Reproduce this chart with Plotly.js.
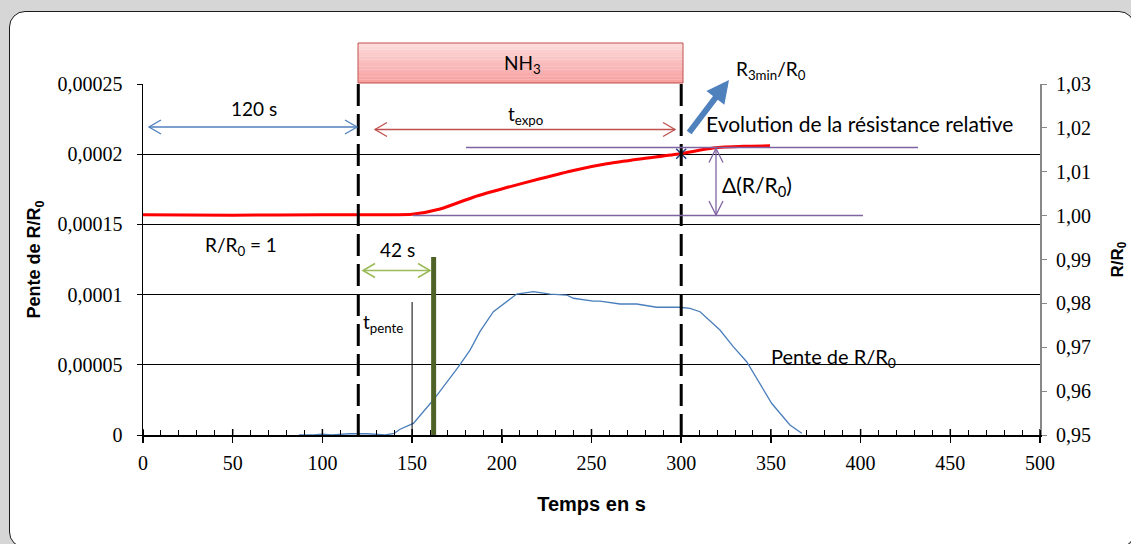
<!DOCTYPE html>
<html><head><meta charset="utf-8">
<script src="https://cdn.plot.ly/plotly-3.0.1.min.js"></script>
<style>
html,body{margin:0;padding:0;width:1131px;height:544px;overflow:hidden;background:#d6d6d6;}
#frame{position:absolute;left:9px;top:11px;width:1126px;height:537px;background:#fff;border:1.5px solid #1a1a1a;border-radius:16px;box-sizing:border-box;}
#chart{position:absolute;left:0;top:0;width:1131px;height:544px;}
</style></head><body>
<div id="frame"></div><div id="chart"></div>
<script>
// ---- data ----
const timeRed  = [0, 50, 100, 140, 150, 165.6, 184.1, 202.7, 221.3, 239.9, 258.5, 277, 299.3, 317.9, 335, 349.5];
const ratioRed = [1.0002, 1.0001, 1.0002, 1.0002, 1.0003, 1.0015, 1.0042, 1.0064, 1.0084, 1.0103, 1.0118, 1.0129, 1.0141, 1.0154, 1.0158, 1.0159];

const timeBlue  = [87, 95, 100, 105, 115, 125, 135, 140, 143.3, 150.7, 161.8, 175.8, 182.3, 187.8, 195.3, 208.3, 217.6, 226.9, 236.2, 239.9, 251, 254.7, 265.9, 275.2, 286.3, 299.3, 304.9, 310.5, 321.6, 329, 336.5, 343.9, 350.4, 360.6, 367.2];
const slopeBlue = [0, 0, 0.0000006, 0, 0.0000009, 0.0000009, 0, 0.0000012, 0.0000041, 0.0000083, 0.0000249, 0.0000486, 0.0000605, 0.0000736, 0.0000878, 0.0001004, 0.0001021, 0.0001004, 0.0000997, 0.0000974, 0.0000954, 0.0000954, 0.0000933, 0.0000933, 0.000091, 0.000091, 0.0000902, 0.0000878, 0.0000748, 0.0000629, 0.0000522, 0.0000368, 0.0000226, 0.0000071, 0.0000012];

const markerTime  = [300];
const markerRatio = [1.0141];

const xTickVals = [0, 50, 100, 150, 200, 250, 300, 350, 400, 450, 500];
const leftTickVals = [0, 0.00005, 0.0001, 0.00015, 0.0002, 0.00025];
const leftTickText = ['0', '0,00005', '0,0001', '0,00015', '0,0002', '0,00025'];
const rightTickVals = [0.95, 0.96, 0.97, 0.98, 0.99, 1.00, 1.01, 1.02, 1.03];
const rightTickText = ['0,95', '0,96', '0,97', '0,98', '0,99', '1,00', '1,01', '1,02', '1,03'];

const exposureStart = 120, exposureEnd = 300;
const slopeMarkTime = 162, slopeRefTime = 150;

// ---- pixel helpers for decorations ----
const L = 143, R = 1040, T = 84, B = 435;
function xs(px) { return (px - L) / (R - L) * 500; }
function yp(py) { return (B - py) / (B - T); }

const FAM = 'Lato, Carlito, Calibri, sans-serif';
const SERIF = 'Liberation Serif, Times New Roman, serif';

const shapes = [];
const annotations = [];

// NH3 gradient box
const boxTop = 43, boxBot = 83, strips = 12;
for (let i = 0; i < strips; i++) {
  const t = i / (strips - 1);
  const r = Math.round(253 - 7 * t), g = Math.round(218 - 58 * t), b = Math.round(218 - 58 * t);
  const y0 = boxTop + (boxBot - boxTop) * i / strips, y1 = boxTop + (boxBot - boxTop) * (i + 1) / strips;
  shapes.push({type: 'rect', xref: 'x', yref: 'paper', x0: xs(358), x1: xs(683), y0: yp(y1), y1: yp(y0),
    fillcolor: `rgb(${r},${g},${b})`, line: {width: 0}});
}
shapes.push({type: 'rect', xref: 'x', yref: 'paper', x0: xs(358), x1: xs(683), y0: yp(boxBot), y1: yp(boxTop),
  fillcolor: 'rgba(0,0,0,0)', line: {color: '#c0504d', width: 1}});

// dashed exposure lines
[exposureStart, exposureEnd].forEach(x => shapes.push({type: 'line', xref: 'x', yref: 'paper', x0: x, x1: x, y0: 1, y1: 0,
  line: {color: '#000', width: 3, dash: '22px,8px'}}));

// major x ticks crossing the axis (inner half)
xTickVals.forEach(x => shapes.push({type: 'line', xref: 'x', yref: 'paper', ysizemode: 'pixel',
  yanchor: 0, x0: x, x1: x, y0: 0, y1: 6, line: {color: '#000', width: 1.5}}));

// t_pente reference line and slope mark
shapes.push({type: 'line', xref: 'x', yref: 'paper', x0: slopeRefTime, x1: slopeRefTime, y0: 0, y1: yp(302), line: {color: '#000', width: 1}});
shapes.push({type: 'line', xref: 'x', yref: 'paper', x0: slopeMarkTime, x1: slopeMarkTime, y0: 0, y1: yp(257), line: {color: '#4f6228', width: 5}});

// purple reference lines
shapes.push({type: 'line', xref: 'x', yref: 'paper', x0: xs(466), x1: xs(918), y0: yp(147.5), y1: yp(147.5), line: {color: '#8064a2', width: 1.3}});
shapes.push({type: 'line', xref: 'x', yref: 'paper', x0: xs(413), x1: xs(863), y0: yp(215.5), y1: yp(215.5), line: {color: '#8064a2', width: 1.3}});

// double arrows
function hArrow(pxA, pxB, py, color, w) {
  shapes.push({type: 'line', xref: 'x', yref: 'paper', x0: xs(pxA), x1: xs(pxB), y0: yp(py), y1: yp(py), line: {color, width: w}});
  shapes.push({type: 'path', xref: 'x', yref: 'paper', xsizemode: 'pixel', ysizemode: 'pixel', xanchor: xs(pxA), yanchor: yp(py),
    path: 'M12,-7L0,0L12,7', line: {color, width: w}});
  shapes.push({type: 'path', xref: 'x', yref: 'paper', xsizemode: 'pixel', ysizemode: 'pixel', xanchor: xs(pxB), yanchor: yp(py),
    path: 'M-12,-7L0,0L-12,7', line: {color, width: w}});
}
function vArrow(px, pyTop, pyBot, color, w) {
  shapes.push({type: 'line', xref: 'x', yref: 'paper', x0: xs(px), x1: xs(px), y0: yp(pyTop), y1: yp(pyBot), line: {color, width: w}});
  shapes.push({type: 'path', xref: 'x', yref: 'paper', xsizemode: 'pixel', ysizemode: 'pixel', xanchor: xs(px), yanchor: yp(pyTop),
    path: 'M-7,-14L0,0L7,-14', line: {color, width: w}});
  shapes.push({type: 'path', xref: 'x', yref: 'paper', xsizemode: 'pixel', ysizemode: 'pixel', xanchor: xs(px), yanchor: yp(pyBot),
    path: 'M-7,14L0,0L7,14', line: {color, width: w}});
}
hArrow(149, 357, 127, '#4f81bd', 1.3);
hArrow(375, 675, 129.5, '#c0504d', 1.3);
hArrow(363, 430, 270.5, '#9bbb59', 1.6);
vArrow(716, 148.5, 215, '#8064a2', 1.3);

// texts
function txt(text, px, py, anchor, size) {
  annotations.push({text, xref: 'x', yref: 'paper', x: xs(px), y: yp(py), xanchor: anchor || 'center', yanchor: 'middle',
    showarrow: false, font: {family: FAM, size: size || 19, color: '#000'}});
}
txt('NH<sub>3</sub>', 522, 64);
txt('120 s', 254, 108);
txt('t<sub>expo</sub>', 525, 115);
txt('R<sub>3min</sub>/R<sub>0</sub>', 734, 70, 'left');
txt('Evolution de la résistance relative', 704, 123, 'left', 21);
txt('Δ(R/R<sub>0</sub>)', 720, 186, 'left', 21);
txt('R/R<sub>0</sub> = 1', 203, 246, 'left');
txt('42 s', 397, 250);
txt('t<sub>pente</sub>', 361, 323, 'left');
txt('Pente de R/R<sub>0</sub>', 769, 357, 'left', 20);

// right axis tick labels and title (placed beside the y2 axis line)
rightTickVals.forEach((v, i) => annotations.push({text: rightTickText[i], xref: 'paper', yref: 'y2', x: 1, y: v,
  xshift: 14, xanchor: 'left', yanchor: 'middle', showarrow: false, font: {family: SERIF, size: 20, color: '#000'}}));
annotations.push({text: 'R/R<sub>0</sub>', xref: 'paper', yref: 'paper', x: 1, y: 0.5, xshift: 65, xanchor: 'left', yanchor: 'middle',
  textangle: -90, showarrow: false, font: {family: 'Liberation Sans, Arial, sans-serif', size: 17, color: '#000', weight: 'bold'}});

// thick blue arrow to R3min/R0
annotations.push({text: '', xref: 'x', yref: 'paper', x: xs(729), y: yp(80), ax: -41, ay: 54, axref: 'pixel', ayref: 'pixel',
  showarrow: true, arrowhead: 2, arrowsize: 0.75, arrowwidth: 6, arrowcolor: '#4f81bd'});

const traces = [
  {x: timeBlue, y: slopeBlue, type: 'scatter', mode: 'lines', yaxis: 'y', line: {color: '#4a7ebb', width: 1.3}, hoverinfo: 'skip'},
  {x: timeRed, y: ratioRed, type: 'scatter', mode: 'lines', yaxis: 'y2', line: {color: '#ff0000', width: 3, shape: 'spline', smoothing: 0.6}, hoverinfo: 'skip'},
  {x: markerTime, y: markerRatio, type: 'scatter', mode: 'markers', yaxis: 'y2',
    marker: {symbol: 'x-thin-open', size: 10, color: '#1f3f7f', line: {color: '#1f3f7f', width: 1.5}}, cliponaxis: false, hoverinfo: 'skip'}
];

const layout = {
  width: 1131, height: 544, autosize: false,
  margin: {l: L, r: 1131 - R, t: T, b: 544 - B},
  paper_bgcolor: 'rgba(0,0,0,0)', plot_bgcolor: 'rgba(0,0,0,0)',
  showlegend: false,
  xaxis: {
    range: [0, 500], tickvals: xTickVals, ticks: 'outside', ticklen: 6, tickwidth: 1.5, tickcolor: '#000',
    showline: true, linecolor: '#000', linewidth: 2, showgrid: false, zeroline: false,
    minor: {dtick: 10, ticks: 'inside', ticklen: 5, tickwidth: 1, tickcolor: '#000', showgrid: false},
    tickfont: {family: SERIF, size: 20, color: '#000'},
    ticklabelstandoff: 3,
    title: {text: 'Temps en s', standoff: 24, font: {family: 'Liberation Sans, Arial, sans-serif', size: 20, color: '#000', weight: 'bold'}}
  },
  yaxis: {
    range: [0, 0.00025], tickvals: leftTickVals, ticktext: leftTickText, ticks: 'outside', ticklen: 5, tickcolor: '#000',
    showline: true, linecolor: '#000', linewidth: 1.5, showgrid: true, gridcolor: '#000', gridwidth: 1, zeroline: false,
    tickfont: {family: SERIF, size: 20, color: '#000'},
    ticklabelstandoff: 10,
    title: {text: 'Pente de R/R<sub>0</sub>', standoff: 12, font: {family: 'Liberation Sans, Arial, sans-serif', size: 18, color: '#000', weight: 'bold'}}
  },
  yaxis2: {
    overlaying: 'y', side: 'right', range: [0.95, 1.03], tickvals: rightTickVals, showticklabels: false,
    ticks: 'outside', ticklen: 5, tickcolor: '#888', showline: true, linecolor: '#888', linewidth: 1.5,
    showgrid: false, zeroline: false
  },
  shapes, annotations
};

Plotly.newPlot('chart', traces, layout, {displayModeBar: false, staticPlot: true});
</script>
</body></html>
